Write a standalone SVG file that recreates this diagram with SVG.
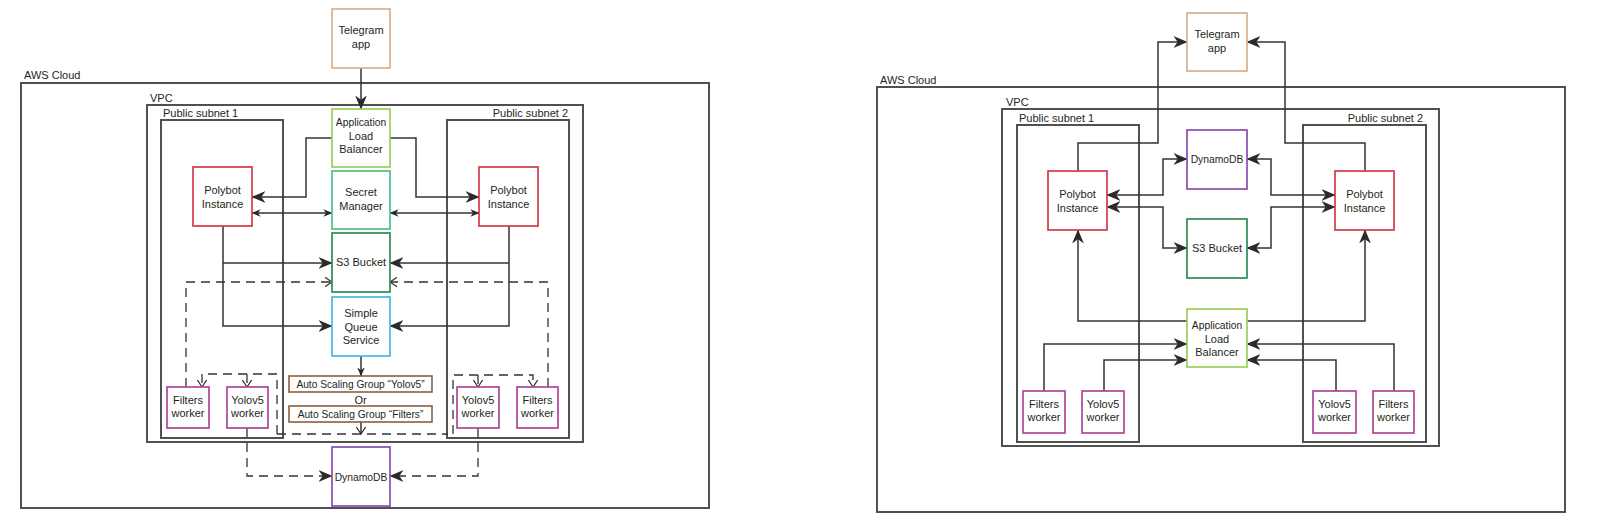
<svg xmlns="http://www.w3.org/2000/svg" width="1600" height="525" viewBox="0 0 1600 525">
<style>
text{font-family:"Liberation Sans",Arial,sans-serif;font-size:11px;fill:#231f20;text-anchor:middle}
.lbl{text-anchor:start}
.end{text-anchor:end}
.sm10{font-size:10.2px}
.nar{font-size:10.3px}
.cont{fill:none;stroke:#505050;stroke-width:2}
.node{fill:#fff;stroke-width:1.7}
.c{fill:none;stroke:#333;stroke-width:1.5}
.d{fill:none;stroke:#333;stroke-width:1.3;stroke-dasharray:9 6}
.tg{stroke:#d9b08c}.alb{stroke:#9bcf5a}.sm{stroke:#4cbf8a}.s3{stroke:#2f8a57}.sqs{stroke:#45b8e6}
.pb{stroke:#d33a4a}.ddb{stroke:#8a4cb0}.wk{stroke:#b0449a}.asg{stroke:#8b5e3c;fill:#fff;stroke-width:1.6}
</style>
<defs>
<marker id="a" viewBox="0 0 12 10" refX="11.5" refY="5" markerWidth="14" markerHeight="12" markerUnits="userSpaceOnUse" orient="auto-start-reverse"><path d="M0,0 L12,5 L0,10 L3.5,5 z" fill="#2a2a2a"/></marker>
<marker id="s" viewBox="0 0 12 10" refX="11.5" refY="5" markerWidth="9" markerHeight="8" markerUnits="userSpaceOnUse" orient="auto-start-reverse"><path d="M0,0 L12,5 L0,10 L3.5,5 z" fill="#2a2a2a"/></marker>
<marker id="o" viewBox="0 0 10 12" refX="9" refY="6" markerWidth="8" markerHeight="10" markerUnits="userSpaceOnUse" orient="auto"><path d="M0,0 L9,6 L0,12" fill="none" stroke="#2a2a2a" stroke-width="1.5"/></marker>
</defs>

<!-- LEFT DIAGRAM containers -->
<g id="left-containers">
<text class="lbl" x="24" y="79">AWS Cloud</text>
<rect class="cont" x="21" y="83" width="688" height="425"/>
<text class="lbl" x="150" y="102">VPC</text>
<rect class="cont" x="147" y="105" width="436" height="337"/>
<text class="lbl" x="163" y="117">Public subnet 1</text>
<rect class="cont" x="161" y="120" width="122" height="318"/>
<text class="end" x="568" y="117">Public subnet 2</text>
<rect class="cont" x="447" y="120" width="122" height="318"/>
</g>

<g id="left-connectors">
<path class="c" d="M361,68 V109" marker-end="url(#a)"/>
<path class="c" d="M332,138 H306 V197 H252" marker-end="url(#a)"/>
<path class="c" d="M390,138 H416 V197 H479" marker-end="url(#a)"/>
<path class="c" d="M252,213 H332" marker-start="url(#s)" marker-end="url(#s)"/>
<path class="c" d="M390,213 H479" marker-start="url(#s)" marker-end="url(#s)"/>
<path class="c" d="M223,226 V326 H332" marker-end="url(#a)"/>
<path class="c" d="M223,263 H332" marker-end="url(#a)"/>
<path class="c" d="M509,226 V326 H390" marker-end="url(#a)"/>
<path class="c" d="M509,263 H390" marker-end="url(#a)"/>
<path class="c" d="M361,356 V376" marker-end="url(#s)"/>
<path class="c" d="M361,422 V434" marker-end="url(#o)"/>
<path class="d" d="M186,387 V282 H332" marker-end="url(#o)"/>
<path class="d" d="M548,387 V282 H390" marker-end="url(#o)"/>
<path class="d" d="M277,434 H448"/>
<path class="d" d="M277,434 V374 H202"/>
<path class="d" d="M202,374 V387" marker-end="url(#o)"/>
<path class="d" d="M247,374 V387" marker-end="url(#o)"/>
<path class="d" d="M453,434 V375 H533 V387" marker-end="url(#o)"/>
<path class="d" d="M478,375 V387" marker-end="url(#o)"/>
<path class="d" d="M247,428 V476 H332" marker-end="url(#a)"/>
<path class="d" d="M478,428 V476 H390" marker-end="url(#a)"/>
</g>

<g id="l-telegram"><rect class="node tg" x="332" y="9" width="58" height="59"/><text x="361" y="34">Telegram</text><text x="361" y="48">app</text></g>
<g id="l-alb"><rect class="node alb" x="332" y="109" width="58" height="58"/><text class="nar" x="361" y="126">Application</text><text x="361" y="140">Load</text><text x="361" y="153">Balancer</text></g>
<g id="l-secret"><rect class="node sm" x="332" y="171" width="58" height="58"/><text x="361" y="196">Secret</text><text x="361" y="210">Manager</text></g>
<g id="l-s3"><rect class="node s3" x="332" y="233" width="58" height="59"/><text x="361" y="266">S3 Bucket</text></g>
<g id="l-sqs"><rect class="node sqs" x="332" y="297" width="58" height="59"/><text x="361" y="317">Simple</text><text x="361" y="331">Queue</text><text x="361" y="344">Service</text></g>
<g id="l-polybot1"><rect class="node pb" x="193" y="167" width="59" height="59"/><text x="222.5" y="194">Polybot</text><text x="222.5" y="208">Instance</text></g>
<g id="l-polybot2"><rect class="node pb" x="479" y="167" width="59" height="59"/><text x="508.5" y="194">Polybot</text><text x="508.5" y="208">Instance</text></g>
<g id="l-asg-yolo"><rect class="asg" x="289" y="376" width="143" height="16"/><text class="sm10" x="360.5" y="388">Auto Scaling Group “Yolov5”</text></g>
<g id="l-or"><text x="360.5" y="404">Or</text></g>
<g id="l-asg-filters"><rect class="asg" x="289" y="406" width="143" height="16"/><text class="sm10" x="360.5" y="418">Auto Scaling Group “Filters”</text></g>
<g id="l-filters1"><rect class="node wk" x="167" y="387" width="42" height="41"/><text x="188" y="404">Filters</text><text x="188" y="417">worker</text></g>
<g id="l-yolo1"><rect class="node wk" x="227" y="387" width="41" height="41"/><text x="247.5" y="404">Yolov5</text><text x="247.5" y="417">worker</text></g>
<g id="l-yolo2"><rect class="node wk" x="457" y="387" width="42" height="41"/><text x="478" y="404">Yolov5</text><text x="478" y="417">worker</text></g>
<g id="l-filters2"><rect class="node wk" x="517" y="387" width="41" height="41"/><text x="537.5" y="404">Filters</text><text x="537.5" y="417">worker</text></g>
<g id="l-dynamo"><rect class="node ddb" x="332" y="447" width="58" height="59"/><text class="nar" x="361" y="481">DynamoDB</text></g>

<!-- RIGHT DIAGRAM containers -->
<g id="right-containers">
<text class="lbl" x="880" y="84">AWS Cloud</text>
<rect class="cont" x="877" y="87" width="688" height="425"/>
<text class="lbl" x="1006" y="106">VPC</text>
<rect class="cont" x="1002" y="109" width="437" height="337"/>
<text class="lbl" x="1019" y="122">Public subnet 1</text>
<rect class="cont" x="1017" y="125" width="122" height="317"/>
<text class="end" x="1423" y="122">Public subnet 2</text>
<rect class="cont" x="1303" y="125" width="123" height="317"/>
</g>

<g id="right-connectors">
<path class="c" d="M1078,171 V143 H1158 V42 H1187" marker-end="url(#a)"/>
<path class="c" d="M1365,171 V143 H1285 V42 H1247" marker-end="url(#a)"/>
<path class="c" d="M1107,195 H1163 V159 H1187" marker-start="url(#a)" marker-end="url(#a)"/>
<path class="c" d="M1107,207 H1163 V248 H1187" marker-start="url(#a)" marker-end="url(#a)"/>
<path class="c" d="M1247,159 H1271 V195 H1335" marker-start="url(#a)" marker-end="url(#a)"/>
<path class="c" d="M1247,248 H1271 V207 H1335" marker-start="url(#a)" marker-end="url(#a)"/>
<path class="c" d="M1187,321 H1078 V230" marker-end="url(#a)"/>
<path class="c" d="M1247,321 H1365 V230" marker-end="url(#a)"/>
<path class="c" d="M1044,391 V344 H1187" marker-end="url(#a)"/>
<path class="c" d="M1104,391 V360 H1187" marker-end="url(#a)"/>
<path class="c" d="M1336,391 V360 H1247" marker-end="url(#a)"/>
<path class="c" d="M1394,391 V344 H1247" marker-end="url(#a)"/>
</g>

<g id="r-telegram"><rect class="node tg" x="1187" y="13" width="60" height="58"/><text x="1217" y="38">Telegram</text><text x="1217" y="52">app</text></g>
<g id="r-dynamo"><rect class="node ddb" x="1187" y="130" width="60" height="59"/><text class="nar" x="1217" y="163">DynamoDB</text></g>
<g id="r-s3"><rect class="node s3" x="1187" y="219" width="60" height="59"/><text x="1217" y="252">S3 Bucket</text></g>
<g id="r-polybot1"><rect class="node pb" x="1048" y="171" width="59" height="59"/><text x="1077.5" y="198">Polybot</text><text x="1077.5" y="212">Instance</text></g>
<g id="r-polybot2"><rect class="node pb" x="1335" y="171" width="59" height="59"/><text x="1364.5" y="198">Polybot</text><text x="1364.5" y="212">Instance</text></g>
<g id="r-alb"><rect class="node alb" x="1187" y="309" width="60" height="58"/><text class="nar" x="1217" y="329">Application</text><text x="1217" y="343">Load</text><text x="1217" y="356">Balancer</text></g>
<g id="r-filters1"><rect class="node wk" x="1023" y="391" width="42" height="42"/><text x="1044" y="408">Filters</text><text x="1044" y="421">worker</text></g>
<g id="r-yolo1"><rect class="node wk" x="1082" y="391" width="42" height="42"/><text x="1103" y="408">Yolov5</text><text x="1103" y="421">worker</text></g>
<g id="r-yolo2"><rect class="node wk" x="1313" y="391" width="43" height="42"/><text x="1334.5" y="408">Yolov5</text><text x="1334.5" y="421">worker</text></g>
<g id="r-filters2"><rect class="node wk" x="1373" y="391" width="41" height="42"/><text x="1393.5" y="408">Filters</text><text x="1393.5" y="421">worker</text></g>
</svg>
